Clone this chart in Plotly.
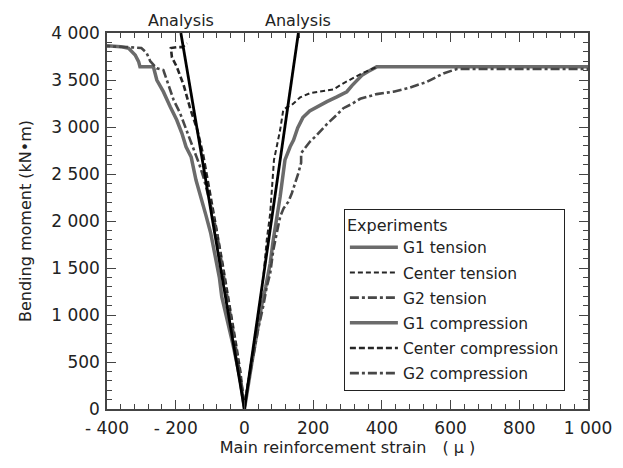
import plotly.graph_objects as go

# ---------------- data ----------------
x_tickvals = [-400, -200, 0, 200, 400, 600, 800, 1000]
x_ticktext = ["- 400", "- 200", "0", "200", "400", "600", "800", "1 000"]
y_tickvals = [0, 500, 1000, 1500, 2000, 2500, 3000, 3500, 4000]
y_ticktext = ["0", "500", "1 000", "1 500", "2 000", "2 500", "3 000", "3 500", "4 000"]

analysis_comp_strain = [0, -185]
analysis_comp_moment = [0, 4000]
analysis_ten_strain = [0, 157]
analysis_ten_moment = [0, 4000]

g1_ten_strain = [0, 8, 22, 36, 50, 62, 75, 84, 94, 104, 113, 118, 133, 143, 155, 170, 190, 211, 240, 269, 298, 313, 342, 360, 385, 1000]
g1_ten_moment = [0, 200, 500, 800, 1100, 1300, 1550, 1800, 2010, 2260, 2510, 2650, 2790, 2860, 2990, 3100, 3170, 3215, 3270, 3320, 3375, 3440, 3550, 3590, 3640, 3640]

center_ten_strain = [0, 7, 20, 33, 45, 56, 65, 75, 80, 84, 86, 94, 104, 113, 125, 138, 162, 191, 220, 259, 288, 317, 342, 376, 390]
center_ten_moment = [0, 200, 500, 800, 1100, 1440, 1800, 2080, 2300, 2500, 2650, 2790, 2970, 3180, 3215, 3235, 3315, 3360, 3376, 3400, 3465, 3520, 3570, 3625, 3640]

g2_ten_strain = [0, 10, 25, 40, 55, 65, 75, 84, 94, 104, 114, 128, 138, 148, 157, 165, 165, 176, 191, 211, 240, 269, 288, 310, 337, 385, 434, 482, 531, 579, 618, 1000]
g2_ten_moment = [0, 250, 550, 850, 1100, 1300, 1444, 1690, 1870, 2045, 2135, 2205, 2295, 2400, 2510, 2620, 2720, 2775, 2845, 2915, 3030, 3130, 3200, 3240, 3300, 3350, 3376, 3420, 3480, 3570, 3617, 3617]

g1_comp_strain = [0, -3, -12, -32, -51, -66, -73, -85, -98, -112, -127, -141, -155, -170, -182, -197, -216, -236, -255, -265, -304, -308, -318, -323, -337, -360, -400]
g1_comp_moment = [0, 64, 309, 663, 947, 1195, 1400, 1620, 1869, 2060, 2258, 2436, 2680, 2790, 2933, 3074, 3216, 3376, 3500, 3640, 3640, 3695, 3766, 3784, 3837, 3855, 3865]

center_comp_strain = [0, -5, -12, -25, -38, -52, -64, -76, -88, -99, -110, -120, -137, -158, -177, -197, -211, -214, -195, -180, -167]
center_comp_moment = [0, 150, 400, 700, 1000, 1300, 1550, 1800, 2050, 2300, 2500, 2700, 2968, 3199, 3447, 3641, 3740, 3840, 3850, 3850, 3890]

g2_comp_strain = [0, -8, -20, -33, -45, -57, -68, -80, -92, -105, -118, -131, -145, -153, -173, -187, -206, -216, -226, -236, -255, -274, -285, -300, -340, -400]
g2_comp_moment = [0, 250, 550, 850, 1100, 1350, 1600, 1870, 2082, 2280, 2450, 2600, 2740, 2826, 3003, 3145, 3287, 3394, 3500, 3606, 3624, 3700, 3790, 3840, 3850, 3860]

# ---------------- styles ----------------
FONT = "DejaVu Sans"
GRAY = "#6b6b6b"
DARK = "#262626"
DDARK = "#474747"
DASHDOT = "9px,3px,3px,3px"

fig = go.Figure()

series = [
    ("G1 tension", g1_ten_strain, g1_ten_moment, GRAY, 3.5, "solid"),
    ("Center tension", center_ten_strain, center_ten_moment, DARK, 2.0, "5px,3px"),
    ("G2 tension", g2_ten_strain, g2_ten_moment, DDARK, 2.6, DASHDOT),
    ("G1 compression", g1_comp_strain, g1_comp_moment, GRAY, 3.5, "solid"),
    ("Center compression", center_comp_strain, center_comp_moment, DARK, 2.6, "6px,3px"),
    ("G2 compression", g2_comp_strain, g2_comp_moment, DDARK, 2.6, DASHDOT),
]
for i, (name, xs, ys, col, w, dash) in enumerate(series):
    fig.add_trace(go.Scatter(x=xs, y=ys, mode="lines", name=name, legendgroup=f"g{i}",
                             line=dict(color=col, width=w, dash=dash)))

for xs, ys in [(analysis_comp_strain, analysis_comp_moment), (analysis_ten_strain, analysis_ten_moment)]:
    fig.add_trace(go.Scatter(x=xs, y=ys, mode="lines", showlegend=False,
                             line=dict(color="#000000", width=2.8)))

for xv in [analysis_comp_strain[-1], analysis_ten_strain[-1]]:
    fig.add_annotation(x=xv, y=1.0, xref="x", yref="paper", yanchor="bottom", yshift=1,
                       text="Analysis", showarrow=False,
                       font=dict(family=FONT, size=16, color="#222"))

axis_common = dict(showline=True, linecolor="#444", linewidth=1.5, mirror="ticks",
                   ticks="inside", ticklen=9, tickwidth=1.3, tickcolor="#444",
                   showgrid=False, zeroline=False, automargin=False,
                   tickfont=dict(family=FONT, size=17, color="#222"))

fig.update_xaxes(range=[-400, 1000], tickvals=x_tickvals, ticktext=x_ticktext,
                 minor=dict(ticks="inside", ticklen=5, tickwidth=1.2, tickcolor="#444", dtick=40, tick0=0),
                 title=dict(text="Main reinforcement strain\u3000( μ )", font=dict(family=FONT, size=16, color="#222"), standoff=4),
                 ticklabelstandoff=3,
                 **axis_common)
fig.update_yaxes(range=[0, 4000], tickvals=y_tickvals, ticktext=y_ticktext,
                 minor=dict(ticks="inside", ticklen=5, tickwidth=1.2, tickcolor="#444", dtick=100, tick0=0),
                 title=dict(text="Bending moment (kN\u2022m)", font=dict(family=FONT, size=16, color="#222"), standoff=16),
                 ticklabelstandoff=2,
                 **axis_common)

# the page body adds an 8 px offset, so the figure is 8 px smaller than the window
fig.update_layout(
    width=615, height=460,
    margin=dict(l=99, r=35, t=25, b=59),
    paper_bgcolor="white", plot_bgcolor="white",
    font=dict(family=FONT, size=16, color="#222"),
    legend=dict(x=0.4925, y=0.532, xanchor="left", yanchor="top",
                bgcolor="white", bordercolor="#222", borderwidth=1,
                title=dict(text="Experiments", font=dict(family=FONT, size=16, color="#222")),
                font=dict(family=FONT, size=15.5, color="#222"),
                tracegroupgap=2, itemwidth=48),
)

fig.write_html("out.html")
